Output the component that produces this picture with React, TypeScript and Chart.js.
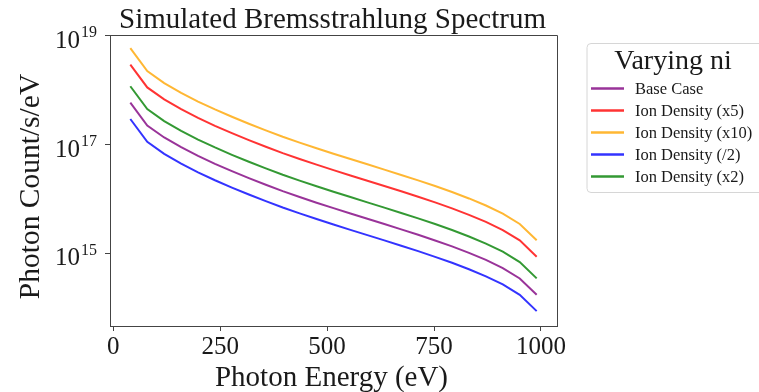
import React, { useEffect, useRef } from "react";
import { Chart, registerables } from "chart.js";

Chart.register(...registerables);

// Photon energies (eV)
const energies = [40, 79.6, 119.2, 158.8, 198.3, 237.9, 277.5, 317.1, 356.7, 396.3, 435.8, 475.4, 515, 554.6, 594.2, 633.8, 673.3, 712.9, 752.5, 792.1, 831.7, 871.3, 910.8, 950.4, 990];

// Photon Count/s/eV for each case
const baseCase = [5.888e17, 2.239e17, 1.349e17, 8.913e16, 6.166e16, 4.416e16, 3.236e16, 2.41e16, 1.82e16, 1.39e16, 1.084e16, 8.531e15, 6.776e15, 5.408e15, 4.325e15, 3.459e15, 2.761e15, 2.193e15, 1.726e15, 1.34e15, 1.021e15, 7.568e14, 5.358e14, 3.459e14, 1.734e14];
const ionDensityX5 = [2.944e18, 1.12e18, 6.745e17, 4.457e17, 3.083e17, 2.208e17, 1.618e17, 1.205e17, 9.1e16, 6.95e16, 5.42e16, 4.266e16, 3.388e16, 2.704e16, 2.163e16, 1.73e16, 1.381e16, 1.097e16, 8.63e15, 6.7e15, 5.105e15, 3.784e15, 2.679e15, 1.73e15, 8.67e14];
const ionDensityX10 = [5.888e18, 2.239e18, 1.349e18, 8.913e17, 6.166e17, 4.416e17, 3.236e17, 2.41e17, 1.82e17, 1.39e17, 1.084e17, 8.531e16, 6.776e16, 5.408e16, 4.325e16, 3.459e16, 2.761e16, 2.193e16, 1.726e16, 1.34e16, 1.021e16, 7.568e15, 5.358e15, 3.459e15, 1.734e15];
const ionDensityHalf = [2.944e17, 1.12e17, 6.745e16, 4.457e16, 3.083e16, 2.208e16, 1.618e16, 1.205e16, 9.1e15, 6.95e15, 5.42e15, 4.266e15, 3.388e15, 2.704e15, 2.163e15, 1.73e15, 1.381e15, 1.097e15, 8.63e14, 6.7e14, 5.105e14, 3.784e14, 2.679e14, 1.73e14, 8.67e13];
const ionDensityX2 = [1.178e18, 4.478e17, 2.698e17, 1.783e17, 1.233e17, 8.832e16, 6.472e16, 4.82e16, 3.64e16, 2.78e16, 2.168e16, 1.706e16, 1.355e16, 1.082e16, 8.65e15, 6.918e15, 5.522e15, 4.386e15, 3.452e15, 2.68e15, 2.042e15, 1.514e15, 1.072e15, 6.918e14, 3.468e14];

const seriesNames = ["Base Case", "Ion Density (x5)", "Ion Density (x10)", "Ion Density (/2)", "Ion Density (x2)"];
const seriesValues = [baseCase, ionDensityX5, ionDensityX10, ionDensityHalf, ionDensityX2];
const seriesColors = ["rgba(128,0,128,0.8)", "rgba(255,0,0,0.8)", "rgba(255,165,0,0.8)", "rgba(0,0,255,0.8)", "rgba(0,128,0,0.8)"];

const xTicks = [0, 250, 500, 750, 1000];
const yTickExponents = [15, 17, 19];

const chartTitle = "Simulated Bremsstrahlung Spectrum";
const xTitle = "Photon Energy (eV)";
const yTitle = "Photon Count/s/eV";
const legendTitle = "Varying ni";

const FONT = "'Liberation Serif', 'Times New Roman', serif";
const TEXT = "#1a1a1a";
const SPINE = "#444";

const textPlugin = {
  id: "textPlugin",
  afterDraw(chart: any) {
    const ctx = chart.ctx as CanvasRenderingContext2D;
    const area = chart.chartArea;
    const yScale = chart.scales.y;
    ctx.save();
    // top & right spines
    ctx.strokeStyle = SPINE;
    ctx.lineWidth = 1;
    ctx.beginPath();
    ctx.moveTo(Math.round(area.left) + 0.5, Math.round(area.top) + 0.5);
    ctx.lineTo(Math.round(area.right) + 0.5, Math.round(area.top) + 0.5);
    ctx.lineTo(Math.round(area.right) + 0.5, Math.round(area.bottom) + 0.5);
    ctx.stroke();

    ctx.fillStyle = TEXT;
    // chart title
    ctx.font = `29px ${FONT}`;
    ctx.textAlign = "center";
    ctx.textBaseline = "alphabetic";
    ctx.fillText(chartTitle, (area.left + area.right) / 2 - 1, 28);

    // x title
    ctx.font = `29px ${FONT}`;
    ctx.fillText(xTitle, (area.left + area.right) / 2 - 2, 386);

    // y title
    ctx.save();
    ctx.translate(38.5, (area.top + area.bottom) / 2 + 6);
    ctx.rotate(-Math.PI / 2);
    ctx.font = `29.5px ${FONT}`;
    ctx.fillText(yTitle, 0, 0);
    ctx.restore();

    // y tick labels 10^n
    ctx.textAlign = "right";
    for (const e of yTickExponents) {
      const py = yScale.getPixelForValue(Math.pow(10, e));
      ctx.font = `16px ${FONT}`;
      ctx.fillText(String(e), 97, py + 1.5);
      const ew = ctx.measureText(String(e)).width;
      ctx.font = `25px ${FONT}`;
      ctx.fillText("10", 97 - ew - 1, py + 12);
    }

    // legend
    const bx = 587, by = 43.5, bw = 190, bh = 149, r = 4;
    ctx.beginPath();
    ctx.moveTo(bx + r, by);
    ctx.lineTo(bx + bw - r, by);
    ctx.arcTo(bx + bw, by, bx + bw, by + r, r);
    ctx.lineTo(bx + bw, by + bh - r);
    ctx.arcTo(bx + bw, by + bh, bx + bw - r, by + bh, r);
    ctx.lineTo(bx + r, by + bh);
    ctx.arcTo(bx, by + bh, bx, by + bh - r, r);
    ctx.lineTo(bx, by + r);
    ctx.arcTo(bx, by, bx + r, by, r);
    ctx.closePath();
    ctx.fillStyle = "rgba(255,255,255,0.8)";
    ctx.fill();
    ctx.strokeStyle = "#d6d6d6";
    ctx.lineWidth = 1;
    ctx.stroke();

    ctx.fillStyle = TEXT;
    ctx.textAlign = "center";
    ctx.font = `28px ${FONT}`;
    ctx.fillText(legendTitle, 673, 69);

    ctx.textAlign = "left";
    ctx.font = `16.5px ${FONT}`;
    chart.data.datasets.forEach((ds: any, i: number) => {
      const ly = 88.5 + i * 22;
      ctx.strokeStyle = ds.borderColor;
      ctx.lineWidth = 2.5;
      ctx.beginPath();
      ctx.moveTo(591, ly);
      ctx.lineTo(624, ly);
      ctx.stroke();
      ctx.fillStyle = TEXT;
      ctx.fillText(ds.label, 635, ly + 5);
    });
    ctx.restore();
  },
};

export default function App() {
  const ref = useRef<HTMLCanvasElement | null>(null);
  useEffect(() => {
    if (!ref.current) return;
    const chart = new Chart(ref.current, {
      type: "line",
      data: {
        datasets: seriesNames.map((name, i) => ({
          label: name,
          data: energies.map((e, j) => ({ x: e, y: seriesValues[i][j] })),
          borderColor: seriesColors[i],
          backgroundColor: seriesColors[i],
          borderWidth: 2,
          pointRadius: 0,
          tension: 0,
          fill: false,
        })),
      },
      options: {
        animation: false,
        responsive: false,
        maintainAspectRatio: false,
        layout: { padding: { top: 35, right: 202, left: 0, bottom: 0 } },
        plugins: {
          legend: { display: false },
          title: { display: false },
          tooltip: { enabled: false },
        },
        scales: {
          x: {
            type: "linear",
            min: -7.5,
            max: 1037.5,
            afterBuildTicks: (s: any) => {
              s.ticks = xTicks.map((v) => ({ value: v }));
            },
            afterFit: (s: any) => {
              s.height = 66;
            },
            grid: { display: true, drawOnChartArea: false, drawTicks: true, tickLength: 5, tickColor: SPINE, lineWidth: 1 },
            border: { display: true, color: SPINE, width: 1 },
            ticks: {
              font: { family: FONT, size: 25 },
              color: TEXT,
              padding: 1,
              maxRotation: 0,
              autoSkip: false,
              callback: (v: any) => String(v),
            },
          },
          y: {
            type: "logarithmic",
            min: 4.62e13,
            max: 1.03e19,
            afterBuildTicks: (s: any) => {
              s.ticks = yTickExponents.map((e) => ({ value: Math.pow(10, e) }));
            },
            afterFit: (s: any) => {
              s.width = 110;
            },
            grid: { display: true, drawOnChartArea: false, drawTicks: true, tickLength: 5, tickColor: SPINE, lineWidth: 1 },
            border: { display: true, color: SPINE, width: 1 },
            ticks: { display: false },
          },
        },
      },
      plugins: [textPlugin],
    });
    return () => chart.destroy();
  }, []);
  return (
    <div style={{ position: "absolute", left: 0, top: 0, width: 759, height: 392, background: "#fff" }}>
      <canvas ref={ref} width={759} height={392} style={{ display: "block" }} />
    </div>
  );
}
